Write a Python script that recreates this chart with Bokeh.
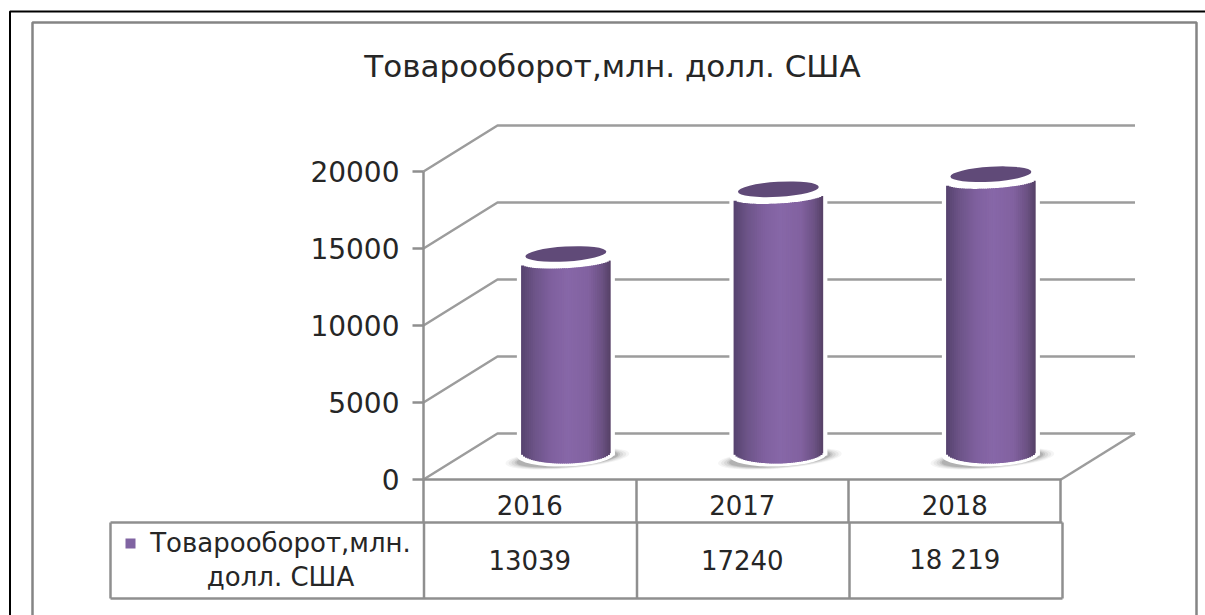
import math
from bokeh.plotting import figure
from bokeh.models import Range1d, FixedTicker, BasicTickFormatter
from bokeh.core.properties import value
from bokeh.embed import file_html
from bokeh.resources import INLINE

# ---- data ----
title_text = "Товарооборот,млн. долл. США"
series_name = ["Товарооборот,млн.", "долл. США"]
categories = ["2016", "2017", "2018"]
values = [13039, 17240, 18219]
value_labels = ["13039", "17240", "18 219"]
y_ticks = [0, 5000, 10000, 15000, 20000]

# ---- layout ----
W, H = 1205, 615
FONT = "DejaVu Sans"
X0, CW = 423.0, 212.5      # first column edge, column width (px)
Y0, K = 479.0, 308 / 20000 # baseline px, px per unit
LINE = "#8f8f8f"
TXT = "#262626"


def xd(px):
    return (px - X0) / CW


def yd(py):
    return (Y0 - py) / K


p = figure(width=W, height=H, output_backend="svg", toolbar_location=None,
           x_range=Range1d(xd(0), xd(W)), y_range=Range1d(yd(H), yd(0)),
           min_border=0, min_border_left=0, min_border_right=0,
           min_border_top=0, min_border_bottom=0)
p.outline_line_color = None
p.background_fill_color = "white"
p.grid.visible = False


def seg(pts, color=LINE, w=2.0):
    p.line([xd(a) for a, _ in pts], [yd(b) for _, b in pts], line_color=color, line_width=w)


def label(px, py, txt, size=26, align="center"):
    p.text([xd(px)], [yd(py)], text=[txt], text_font=value(FONT), text_font_size=f"{size}px",
           text_color=TXT, text_align=align, text_baseline="middle")


# outer frames
seg([(9.5, 615), (9.5, 11), (1205, 11)], "#000000", 2)
seg([(32, 615), (32, 22), (1196, 22), (1196, 615)], "#858585", 2.5)

# walls: back grid lines and depth diagonals
DX, DY = 74 / CW, 46 / K
for t in y_ticks:
    p.line([0, DX, 3 + DX], [t, t + DY, t + DY], line_color="#9c9c9c", line_width=2.5)
p.line([3, 3 + DX], [0, DY], line_color="#9c9c9c", line_width=2.5)

# cylinders
BASE = 24 / K
CX_OFF = 0.67
HW = 44.8
STOPS = [(-1.0, (0x55, 0x42, 0x6e)), (-0.7, (0x6d, 0x54, 0x88)), (-0.3, (0x80, 0x61, 0xa0)),
         (0.05, (0x87, 0x67, 0xa8)), (0.5, (0x82, 0x62, 0xa0)), (0.8, (0x6c, 0x52, 0x84)),
         (1.0, (0x55, 0x40, 0x66))]


def shade(t):
    for (a, ca), (b, cb) in zip(STOPS, STOPS[1:]):
        if t <= b:
            f = (t - a) / (b - a)
            return "#%02x%02x%02x" % tuple(round(u + (v - u) * f) for u, v in zip(ca, cb))
    return "#554066"


N = 46
for i, v in enumerate(values):
    cx = i + CX_OFF
    top = v + BASE
    # soft shadow on the floor
    for sw, sh, al in [(124, 20, 0.06), (118, 19, 0.08), (112, 18, 0.10), (106, 17, 0.14), (102, 16, 0.18)]:
        p.ellipse([cx + 1.5 / CW], [BASE - 3 / K], width=sw, height=sh, angle=0.08,
                  width_units="screen", height_units="screen",
                  fill_color="#555555", fill_alpha=al, line_color=None)
    # white halo behind the body
    p.quad(left=[cx - 49 / CW], right=[cx + 49 / CW], top=[top + 4 / K], bottom=[BASE],
           fill_color="white", line_color=None)
    p.ellipse([cx], [BASE + 1 / K], width=98, height=24, angle=0.03,
              width_units="screen", height_units="screen", fill_color="white", line_color=None)
    p.ellipse([cx], [top - 1 / K], width=94, height=26, angle=0.05,
              width_units="screen", height_units="screen", fill_color="white", line_color=None)
    # body as gradient strips with curved ends
    ls, rs, ts, bs, cs = [], [], [], [], []
    for j in range(N):
        t0 = -1 + 2 * j / N
        t1 = -1 + 2 * (j + 1) / N
        tm = (t0 + t1) / 2
        arc = math.sqrt(max(0.0, 1 - tm * tm))
        ls.append(cx + t0 * HW / CW)
        rs.append(cx + min(t1 * HW + 1.2, HW) / CW)
        ts.append(top - (7 + 6.5 * arc - 2.5 * tm) / K)
        bs.append(BASE - (-4 + 12 * arc - 0.85 * tm) / K)
        cs.append(shade(tm))
    p.quad(left=ls, right=rs, top=ts, bottom=bs, fill_color=cs, line_color=None)
    # dark cap
    p.ellipse([cx], [top + 0.7 / K], width=81, height=15, angle=0.06,
              width_units="screen", height_units="screen", fill_color="#604a78", line_color=None)

# axes
ya = p.yaxis[0]
ya.fixed_location = 0
ya.bounds = (0, 20000)
ya.ticker = FixedTicker(ticks=y_ticks)
ya.formatter = BasicTickFormatter(use_scientific=False)
ya.axis_line_color = LINE
ya.axis_line_width = 2.5
ya.major_tick_line_color = LINE
ya.major_tick_line_width = 2.5
ya.major_tick_out = 11
ya.major_tick_in = 0
ya.minor_tick_line_color = None
ya.major_label_text_font = FONT
ya.major_label_text_font_size = "28px"
ya.major_label_text_color = TXT
ya.major_label_standoff = 13

xa = p.xaxis[0]
xa.fixed_location = 0
xa.bounds = (0, 3)
xa.ticker = FixedTicker(ticks=[i + 0.5 for i in range(len(categories))])
xa.major_label_overrides = {i + 0.5: c for i, c in enumerate(categories)}
xa.axis_line_color = LINE
xa.axis_line_width = 2.5
xa.major_tick_line_color = None
xa.minor_tick_line_color = None
xa.major_tick_out = 0
xa.major_tick_in = 0
xa.major_label_text_font = FONT
xa.major_label_text_font_size = "26px"
xa.major_label_text_color = TXT
xa.major_label_standoff = 15

# data table lines
for px in [423, 636, 848, 1060]:
    seg([(px, 479), (px, 522)], LINE, 2.5)
for py in [522, 598]:
    seg([(110, py), (1062, py)], LINE, 2.5)
for px in [110, 423.5, 636.5, 849, 1062]:
    seg([(px, 522), (px, 598)], LINE, 2.5)

# data table values
for i, s in enumerate(value_labels):
    label(X0 + CW * (i + 0.5), 559, s)

# legend key and name
p.scatter([xd(130)], [yd(543)], marker="square", size=10, fill_color="#8064a2", line_color=None)
label(280, 542, series_name[0])
label(280, 576, series_name[1])

# title
label(612, 65, title_text, size=31)

open("out.html", "w").write(file_html(p, INLINE))
